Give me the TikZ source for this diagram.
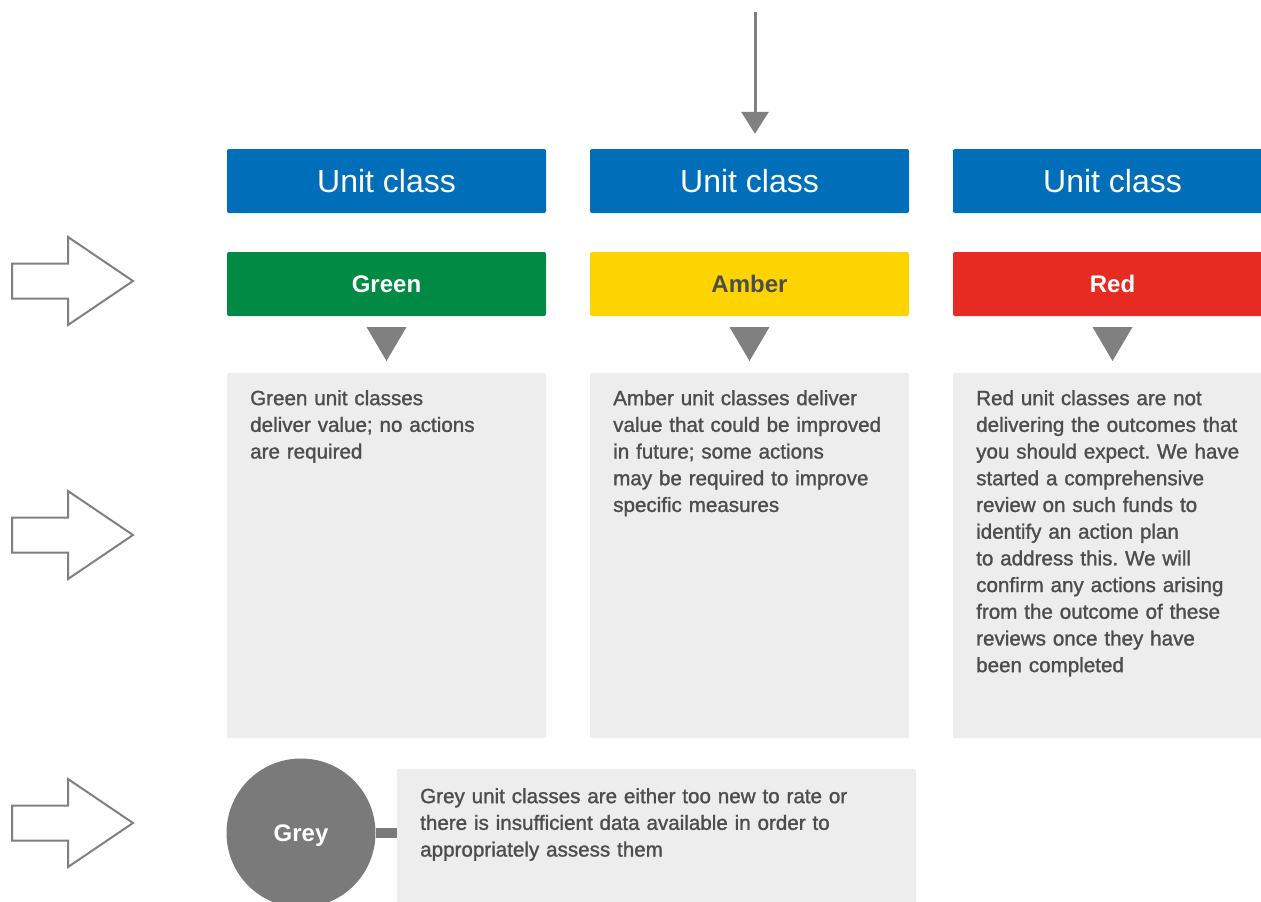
\documentclass[tikz,border=0pt]{standalone}
\usepackage{fontspec}
\setmainfont{Liberation Sans}
\newfontfamily\mediumfont{Liberation Sans}[FakeBold=1.3]
\usetikzlibrary{arrows.meta}
\frenchspacing

\definecolor{ClassBlue}{HTML}{006EB9}
\definecolor{RateGreen}{HTML}{008A43}
\definecolor{RateAmber}{HTML}{FDD400}
\definecolor{RateRed}{HTML}{E52B22}
\definecolor{RateGrey}{HTML}{7A7A7A}
\definecolor{PanelGrey}{HTML}{EDEDED}
\definecolor{TextGrey}{HTML}{4D4D4D}
\definecolor{LineGrey}{HTML}{808080}

\tikzstyle{class-box}=[rectangle, rounded corners=2pt, fill={ClassBlue}, minimum width=319pt, minimum height=64pt, text=white, font=\fontsize{32}{38}\selectfont]
\tikzstyle{rate-box}=[rectangle, rounded corners=2pt, minimum width=319pt, minimum height=64pt, font=\bfseries\fontsize{24}{28}\selectfont]
\tikzstyle{panel}=[rectangle, rounded corners=2pt, fill={PanelGrey}, minimum width=319pt, minimum height=365pt]
\tikzstyle{panel-text}=[anchor=north west, inner sep=0pt, text width=300pt, align=left, text={TextGrey}, font=\mediumfont\fontsize{20.6}{26.7}\selectfont]
\tikzstyle{pointer}=[fill={LineGrey}]
\tikzstyle{hollow-arrow}=[draw={LineGrey}, line width=2pt, fill=white, line join=miter]

\begin{document}
\begin{tikzpicture}[x=1pt, y=-1pt]
      \clip (0,0) rectangle (1261,902);

      \node (class-green) at (386.5,181) [class-box] {Unit class};
      \node (class-amber) at (749.5,181) [class-box] {Unit class};
      \node (class-red) at (1112.5,181) [class-box] {Unit class};

      \node (rate-green) at (386.5,284) [rate-box, fill={RateGreen}, text=white] {Green};
      \node (rate-amber) at (749.5,284) [rate-box, fill={RateAmber}, text={TextGrey}] {Amber};
      \node (rate-red) at (1112.5,284) [rate-box, fill={RateRed}, text=white] {Red};

      \coordinate (top) at (755,12);
      \draw[{LineGrey}, line width=3pt, -{Triangle[width=27pt, length=22pt]}, shorten >=15pt] (top) -- (top |- class-amber.north);

      \foreach \x in {386.5,749.5,1112.5}
        \fill[pointer] (\x-20,327) -- (\x+20,327) -- (\x,361) -- cycle;

      \node (panel-green) at (386.5,555.5) [panel] {};
      \node (panel-amber) at (749.5,555.5) [panel] {};
      \node (panel-red) at (1112.5,555.5) [panel] {};

      \node (desc-green) at (250,390) [panel-text] {Green unit classes\\ deliver value; no actions\\ are required};
      \node (desc-amber) at (613,390) [panel-text] {Amber unit classes deliver\\ value that could be improved\\ in future; some actions\\ may be required to improve\\ specific measures};
      \node (desc-red) at (976,390) [panel-text] {Red unit classes are not\\ delivering the outcomes that\\ you should expect. We have\\ started a comprehensive\\ review on such funds to\\ identify an action plan\\ to address this. We will\\ confirm any actions arising\\ from the outcome of these\\ reviews once they have\\ been completed};

      \node (panel-grey) at (656.5,850) [panel, minimum width=519pt, minimum height=162pt] {};
      \node (rate-grey) at (301,833) [circle, fill={RateGrey}, minimum size=149pt, inner sep=0pt, text=white, text depth=0pt, font=\bfseries\fontsize{24}{28}\selectfont] {Grey};
      \draw[{RateGrey}, line width=10pt] (rate-grey.east) -- (rate-grey.east -| panel-grey.west);
      \node (desc-grey) at (420,788) [panel-text, text width=480pt] {Grey unit classes are either too new to rate or\\ there is insufficient data available in order to\\ appropriately assess them};

      \foreach \y in {281,535,823}
        \draw[hollow-arrow] (12,\y-17.5) -- (68,\y-17.5) -- (68,\y-44) -- (133,\y) -- (68,\y+44) -- (68,\y+17.5) -- (12,\y+17.5) -- cycle;
    \end{tikzpicture}
\end{document}
